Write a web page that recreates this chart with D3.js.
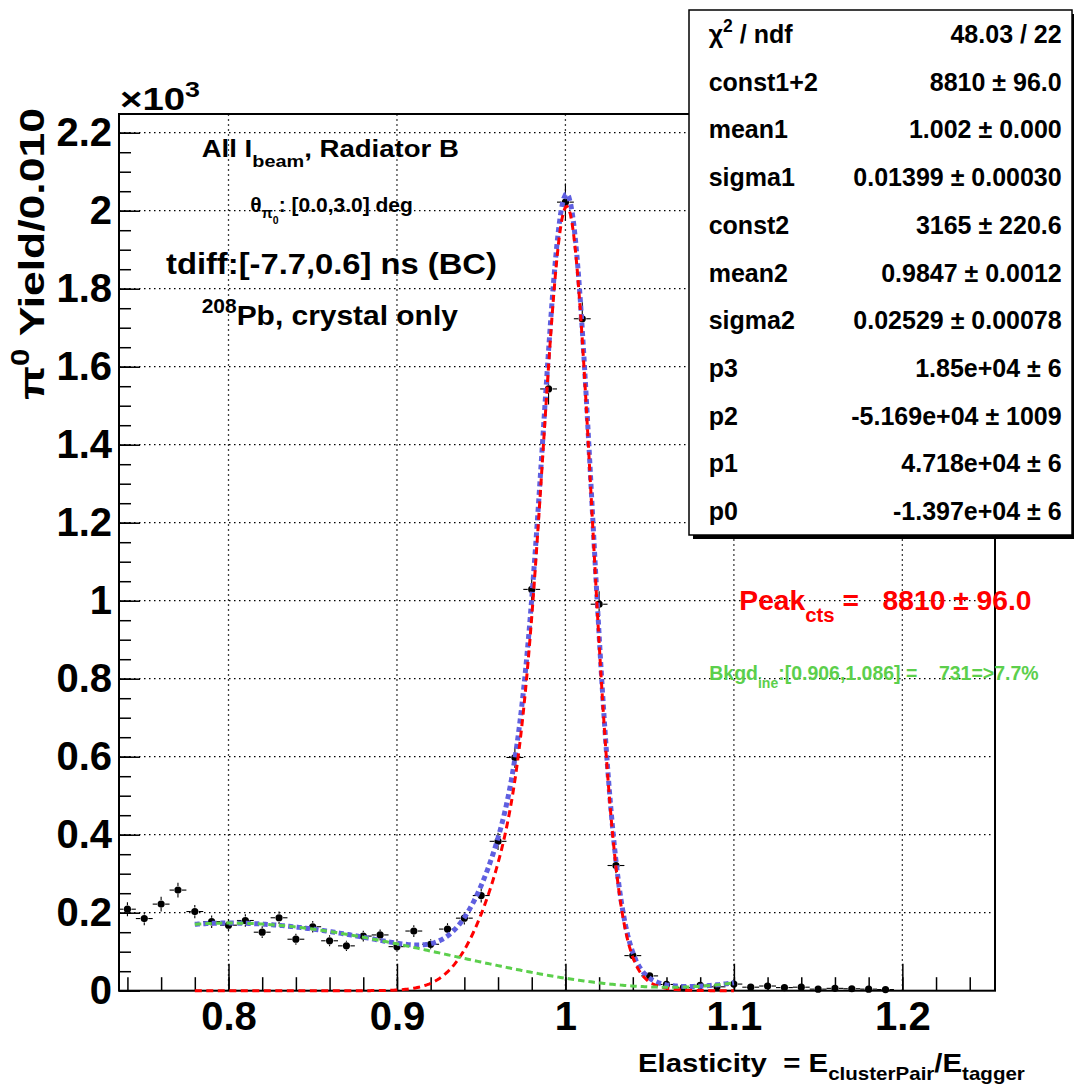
<!DOCTYPE html>
<html><head><meta charset="utf-8">
<script src="https://cdn.jsdelivr.net/npm/d3@7"></script>
<style>
body{margin:0;background:#fff;}
svg{display:block;font-family:"Liberation Sans",Arial,Helvetica,sans-serif;font-weight:bold;}
text{white-space:pre;}
</style></head><body>
<svg id="c" width="1074" height="1087"></svg>
<script>
// ---- data ----
const binCenters = [0.74,0.75,0.76,0.77,0.78,0.79,0.80,0.81,0.82,0.83,0.84,0.85,0.86,0.87,0.88,0.89,0.90,0.91,0.92,0.93,0.94,0.95,0.96,0.97,0.98,0.99,1.00,1.01,1.02,1.03,1.04,1.05,1.06,1.07,1.08,1.09,1.10,1.11,1.12,1.13,1.14,1.15,1.16,1.17,1.18,1.19];
const yields = [209,185,222,258,203,177,168,180,150,187,132,164,128,115,140,143,113,153,119,158,186,244,383,598,1029,1543,2022,1723,991,321,90,38,16,8,14,10,17,9,12,8,9,4,6,5,4,3];
const yieldErrors = [18,17,19,19,17,16,16,16,15,16,14,15,14,13,14,14,13,15,13,15,16,18,22,27,35,40,48,42,33,20,12,8,6,5,5,5,6,4,4,4,4,3,3,3,3,3];

const xMajorTicks = [0.8,0.9,1.0,1.1,1.2];
const xTickLabels = ["0.8","0.9","1","1.1","1.2"];
const yMajorTicks = [0,200,400,600,800,1000,1200,1400,1600,1800,2000,2200];
const yTickLabels = ["0","0.2","0.4","0.6","0.8","1","1.2","1.4","1.6","1.8","2","2.2"];

// fit parameters (stats box values; polynomial taken within the printed rounding)
const fitRange = [0.78, 1.10];
const binWidth = 0.01;
const gausParams = [8810, 1.002, 0.01399, 3165, 0.9847, 0.02529]; // const1+2, mean1, sigma1, const2, mean2, sigma2
const polParams = [-13966, 47182, -51687, 18503];                 // p0, p1, p2, p3

const statLabels = ["χ2 / ndf","const1+2","mean1","sigma1","const2","mean2","sigma2","p3","p2","p1","p0"];
const statValues = ["48.03 / 22","8810 ± 96.0","1.002 ± 0.000","0.01399 ± 0.00030","3165 ± 220.6","0.9847 ± 0.0012","0.02529 ± 0.00078","1.85e+04 ± 6","-5.169e+04 ± 1009","4.718e+04 ± 6","-1.397e+04 ± 6"];

// ---- setup ----
const svg = d3.select('#c');
const x = d3.scaleLinear().domain([0.735, 1.255]).range([119, 995]);
const y = d3.scaleLinear().domain([0, 2248]).range([990.7, 114]);

// grid
const grid = svg.append('g').attr('stroke','#000').attr('stroke-width',1.3).attr('stroke-dasharray','1.5,3.5');
grid.selectAll('line.gx').data(xMajorTicks).join('line')
  .attr('x1',d=>x(d)).attr('x2',d=>x(d)).attr('y1',y(0)).attr('y2',y.range()[1]);
grid.selectAll('line.gy').data(yMajorTicks.filter(d=>d>0)).join('line')
  .attr('y1',d=>y(d)).attr('y2',d=>y(d)).attr('x1',x.range()[0]).attr('x2',x.range()[1]);

// axes
const xMinor = d3.range(0.74, 1.255, 0.02).map(v=>+v.toFixed(3));
const yMinor = d3.range(0, 2248, 50);
function styleAxis(g){
  g.select('.domain').remove();
  g.selectAll('line').attr('stroke','#000').attr('stroke-width',1.5);
  g.attr('font-family',null).attr('font-size',40).attr('font-weight','bold');
  g.selectAll('text').attr('fill','#000');
}
svg.append('g').attr('transform',`translate(0,${y(0)})`)
  .call(d3.axisBottom(x).tickValues(xMinor).tickSizeInner(-13.5).tickSizeOuter(0).tickFormat(''))
  .call(styleAxis);
svg.append('g').attr('transform',`translate(0,${y(0)})`)
  .call(d3.axisBottom(x).tickValues(xMajorTicks).tickSizeInner(-27).tickSizeOuter(0).tickPadding(11)
    .tickFormat((d,i)=>xTickLabels[i]))
  .call(styleAxis);
svg.append('g').attr('transform',`translate(${x.range()[0]},0)`)
  .call(d3.axisLeft(y).tickValues(yMinor).tickSizeInner(-12).tickSizeOuter(0).tickFormat(''))
  .call(styleAxis);
svg.append('g').attr('transform',`translate(${x.range()[0]},0)`)
  .call(d3.axisLeft(y).tickValues(yMajorTicks).tickSizeInner(-21).tickSizeOuter(0).tickPadding(7)
    .tickFormat((d,i)=>yTickLabels[i]))
  .call(styleAxis);

// frame
svg.append('rect').attr('x',x.range()[0]).attr('y',y.range()[1])
  .attr('width',x.range()[1]-x.range()[0]).attr('height',y(0)-y.range()[1])
  .attr('fill','none').attr('stroke','#000').attr('stroke-width',2);

// data points
const pts = binCenters.map((c,i)=>({x:c, y:yields[i], e:yieldErrors[i]}));
const R = 3.6, gap = 4;
const eb = svg.append('g').attr('stroke','#000').attr('stroke-width',1.1);
pts.forEach(p=>{
  const cx = x(p.x), cy = y(p.y);
  const xl = x(p.x - binWidth/2), xr = x(p.x + binWidth/2);
  eb.append('line').attr('x1',xl).attr('x2',cx-gap).attr('y1',cy).attr('y2',cy);
  eb.append('line').attr('x1',cx+gap).attr('x2',xr).attr('y1',cy).attr('y2',cy);
  const yt = y(p.y + p.e), yb = y(Math.max(0,p.y - p.e));
  if (cy - yt > gap) eb.append('line').attr('x1',cx).attr('x2',cx).attr('y1',yt).attr('y2',cy-gap);
  if (yb - cy > gap) eb.append('line').attr('x1',cx).attr('x2',cx).attr('y1',cy+gap).attr('y2',yb);
});
svg.append('g').selectAll('circle').data(pts).join('circle')
  .attr('cx',d=>x(d.x)).attr('cy',d=>y(d.y)).attr('r',R).attr('fill','#000');

// fit curves
const [c12,m1,s1,c2,m2,s2] = gausParams;
const sq = Math.sqrt(2*Math.PI);
const sig = v => binWidth*((c12-c2)/(s1*sq)*Math.exp(-0.5*((v-m1)/s1)**2) + c2/(s2*sq)*Math.exp(-0.5*((v-m2)/s2)**2));
const bkg = v => polParams[0] + polParams[1]*v + polParams[2]*v*v + polParams[3]*v*v*v;
const xs = d3.range(fitRange[0], fitRange[1]+1e-9, 0.001);
const line = d3.line().x(d=>x(d[0])).y(d=>y(d[1]));
svg.append('path').attr('d', line(xs.map(v=>[v, sig(v)+bkg(v)])))
  .attr('fill','none').attr('stroke','#5f5fe0').attr('stroke-width',5).attr('stroke-dasharray','5,3.5');
svg.append('path').attr('d', line(xs.map(v=>[v, sig(v)])))
  .attr('fill','none').attr('stroke','#ff0000').attr('stroke-width',3).attr('stroke-dasharray','7,4.5');
svg.append('path').attr('d', line(xs.map(v=>[v, bkg(v)])))
  .attr('fill','none').attr('stroke','#5ccf4c').attr('stroke-width',3).attr('stroke-dasharray','6.5,4');

// ---- rich text helpers ----
function rich(parent, parts, F, fill){
  const t = parent.append('text').attr('font-size',F).attr('fill',fill||'#000');
  let prev = 0;
  parts.forEach(p=>{
    const sh = (p.shift||0)*F;
    t.append('tspan').attr('dy', sh-prev).attr('font-size', F*(p.size||1)).text(p.t);
    prev = sh;
  });
  return t;
}
// mode: default stretch (scale x only), 'uniform' (change font size), 'rot' (rotated, stretch), 'center'
function placed(parts, F, fill, left, right, baseline, mode){
  const g = svg.append('g');
  let t = rich(g, parts, F, fill);
  const w = t.node().getComputedTextLength();
  const k = Math.abs(right-left)/w;
  if (mode === 'rot') g.attr('transform',`translate(${baseline},${left}) rotate(-90) scale(${k},1)`);
  else if (mode === 'uniform') {
    t.remove();
    rich(g, parts, F*k, fill);
    g.attr('transform',`translate(${left},${baseline})`);
  }
  else if (mode === 'center') {
    g.attr('transform',`translate(${(left+right)/2 - w/2},${baseline})`);
  }
  else g.attr('transform',`translate(${left},${baseline}) scale(${k},1)`);
  return g;
}
const SUB = 0.42, SUP = -0.42;

// titles inside pad
placed([{t:'All I'},{t:'beam',size:0.72,shift:SUB},{t:', Radiator B'}], 24, '#000', 201.7, 459, 157);
placed([{t:'θ'},{t:'π',size:0.7,shift:0.3},{t:'0',size:0.5,shift:0.55},{t:': [0.0,3.0] deg'}], 21, '#000', 250, 413, 212, 'center');
placed([{t:'tdiff:[-7.7,0.6] ns (BC)'}], 29, '#000', 166, 497, 274);
placed([{t:'208',size:0.7,shift:SUP},{t:'Pb, crystal only'}], 28, '#000', 201.7, 458, 325);

// axis titles
placed([{t:'Elasticity  = E'},{t:'clusterPair',size:0.7,shift:0.35},{t:'/E'},{t:'tagger',size:0.7,shift:0.35}], 25, '#000', 638, 1025, 1071.7);
placed([{t:'π'},{t:'0',size:0.7,shift:SUP},{t:' Yield/0.010'}], 36, '#000', 400, 108, 44, 'rot');
// exponent label
placed([{t:'×10'},{t:'3',size:0.7,shift:SUP}], 32, '#000', 120, 200, 110);

// peak & background annotations
placed([{t:'Peak'},{t:'cts',size:0.72,shift:SUB},{t:' =   8810 ± 96.0'}], 28, '#ff0000', 739.3, 1031.7, 610);
placed([{t:'Bkgd'},{t:'ine',size:0.72,shift:SUB},{t:':[0.906,1.086] =    731=>7.7%'}], 17, '#5ccf4c', 709.3, 1038.7, 680, 'uniform');

// stats box
const boxX = 689, boxY = 10, boxW = 383, boxH = 525;
svg.append('rect').attr('x',boxX+4).attr('y',boxY+4).attr('width',boxW).attr('height',boxH).attr('fill','#000');
svg.append('rect').attr('x',boxX).attr('y',boxY).attr('width',boxW).attr('height',boxH)
  .attr('fill','#fff').attr('stroke','#000').attr('stroke-width',1.5);
const rowH = boxH/statLabels.length;
statLabels.forEach((lab,i)=>{
  const by = boxY + rowH*i + rowH/2 + 9;
  const g = svg.append('g').attr('transform',`translate(708.7,${by})`);
  if (i===0) rich(g, [{t:'χ'},{t:'2',size:0.7,shift:SUP},{t:' / ndf'}], 25, '#000');
  else g.append('text').attr('font-size',25).text(lab);
  svg.append('text').attr('x',1061.7).attr('y',by).attr('font-size',25).attr('text-anchor','end').text(statValues[i]);
});
</script>
</body></html>
